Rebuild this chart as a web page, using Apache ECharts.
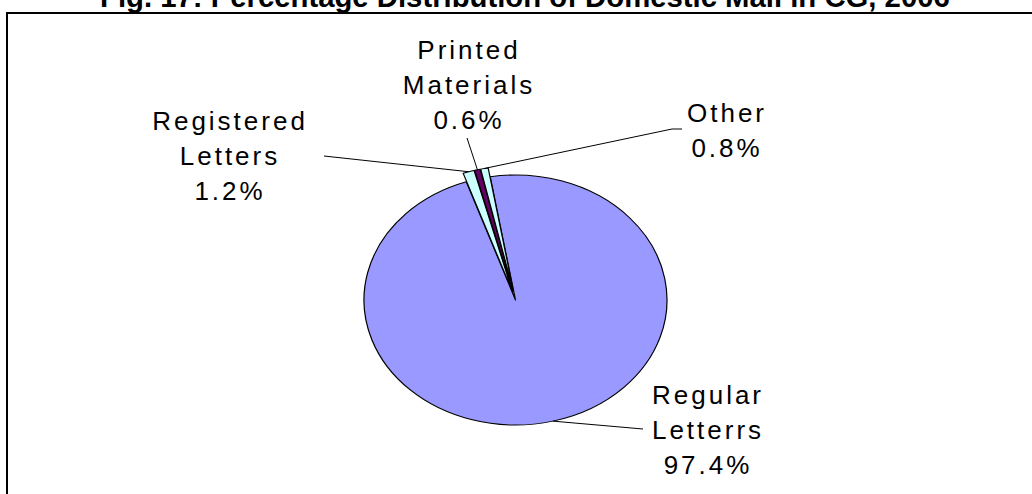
<!DOCTYPE html>
<html><head><meta charset="utf-8">
<script src="https://cdn.jsdelivr.net/npm/echarts@6/dist/echarts.min.js"></script>
<style>
html,body{margin:0;padding:0;background:#fff;overflow:hidden;}
#wrap{position:relative;width:1032px;height:494px;overflow:hidden;background:#fff;}
#pie{position:absolute;left:0;top:0;width:1032px;height:494px;transform-origin:515.5px 300px;transform:scaleX(1.212);}
#main{position:absolute;left:0;top:0;width:1032px;height:494px;}
#main text{letter-spacing:3px;}
#main text[style*="bold"]{letter-spacing:0;}
</style></head>
<body><div id="wrap"><div id="pie"></div><div id="main"></div></div>
<script>
// ---- data ----
const categories = ['Regular Letterrs', 'Registered Letters', 'Printed Materials', 'Other'];
const values = [97.4, 1.2, 0.6, 0.8];
const exploded = [false, true, true, true];
const titleText = 'Fig. 17: Percentage Distribution of Domestic Mail in CG, 2006';

// ---- style / layout ----
const colors = ['#9999FF', '#CCFFFF', '#660066', '#CCFFFF'];
const CX = 515.5, CY = 300, R = 125, K = 151.5 / 125, OFF = 9, START = 99.6;
const labelPos = [
  {x: 708, y: 430, bx: 643, by: 429, ex: 643, ey: 429},
  {x: 230, y: 156, bx: 324, by: 156, ex: 324, ey: 156},
  {x: 469, y: 85,  bx: 467, by: 138, ex: 467, ey: 138},
  {x: 727, y: 130, bx: 672, by: 129, ex: 682, ey: 129}
];

function makeData() {
  return categories.map((c, i) => ({name: c, value: values[i], selected: exploded[i]}));
}

const pieChart = echarts.init(document.getElementById('pie'), null, {renderer: 'svg'});
pieChart.setOption({
  animation: false,
  color: colors,
  series: [{
    type: 'pie', center: [CX, CY], radius: R, startAngle: START, clockwise: true,
    selectedMode: 'multiple', selectedOffset: OFF, silent: true,
    label: {show: false}, labelLine: {show: false},
    emphasis: {disabled: true},
    itemStyle: {borderColor: '#000', borderWidth: 1},
    data: makeData()
  }]
});

const main = echarts.init(document.getElementById('main'), null, {renderer: 'svg'});
main.setOption({
  animation: false,
  title: {
    text: titleText, left: 100, top: -18, padding: 0,
    textStyle: {fontFamily: 'Liberation Sans', fontWeight: 'bold', fontSize: 29.3, color: '#000'}
  },
  graphic: [{
    type: 'rect', silent: true,
    shape: {x: 7, y: 13, width: 1200, height: 700},
    style: {fill: 'none', stroke: '#000', lineWidth: 2}
  }],
  series: [{
    type: 'pie', center: [CX, CY], radius: R, startAngle: START, clockwise: true, silent: true,
    itemStyle: {color: 'rgba(0,0,0,0)', borderWidth: 0},
    emphasis: {disabled: true},
    label: {
      show: true, position: 'outside', align: 'center',
      formatter: p => p.name.replace(' ', '\n') + '\n' + p.value.toFixed(1) + '%',
      fontFamily: 'Liberation Sans', fontSize: 26, lineHeight: 35, color: '#000'
    },
    labelLine: {show: true, length: 10, length2: 10, lineStyle: {color: '#000', width: 1}},
    labelLayout: function (p) {
      const i = p.dataIndex, L = labelPos[i];
      const pt = p.labelLinePoints[0];
      const s = exploded[i] ? 1 + OFF / R : 1;
      const sx = CX + (pt[0] - CX) * s * K, sy = CY + (pt[1] - CY) * s;
      return {
        x: L.x, y: L.y, align: 'center', verticalAlign: 'middle',
        labelLinePoints: [[sx, sy], [L.bx, L.by], [L.ex, L.ey]]
      };
    },
    data: makeData().map(d => ({name: d.name, value: d.value}))
  }]
});
</script>
</body></html>
